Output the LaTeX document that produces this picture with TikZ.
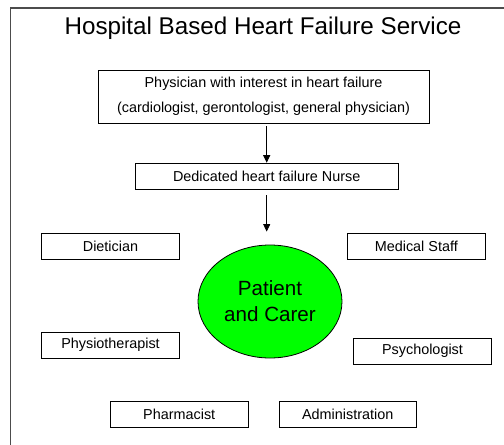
\documentclass[tikz,border=0pt]{standalone}
\usepackage{fontspec}
\setmainfont{Liberation Sans}
\usetikzlibrary{arrows.meta,shapes.geometric}

\begin{document}
\begin{tikzpicture}[x=1pt, y=-1pt,
    box/.style={draw, line width=0.8pt, minimum width=137.6pt, minimum height=25.8pt,
        inner sep=0pt, font=\fontsize{14.4}{25}\selectfont},
    arr/.style={line width=0.8pt, -{Triangle[length=7.5pt,width=7pt]}}]
        \useasboundingbox (0,0) rectangle (504,445);

        % outer frame (only top and left edges show)
        \draw[line width=1.2pt, black!70] (504,8) -- (10.5,8) -- (10.5,445);

        % title
        \node (title) at (263,28) {\fontsize{24.2}{28}\selectfont Hospital Based Heart Failure Service};

        % physician and nurse
        \node[box, minimum width=331pt, minimum height=53pt, align=center] (phys) at (263.5,96.5)
            {Physician with interest in heart failure\\(cardiologist, gerontologist, general physician)};
        \node[box, minimum width=263pt] (nurse) at (266.7,176) {Dedicated heart failure Nurse};

        % patient in the middle
        \node[ellipse, draw, line width=0.8pt, fill={rgb,255:red,0;green,255;blue,0},
            minimum width=144pt, minimum height=113pt, inner sep=0pt, align=center,
            font=\fontsize{20.6}{26}\selectfont] (pat) at (270,301.5) {Patient\\and Carer};

        % team around the patient
        \node[box] (diet)  at (110.5,246) {Dietician};
        \node[box] (med)   at (416.3,246) {Medical Staff};
        \node[box] (physio) at (110.5,345) {Physiotherapist};
        \node[box] (psych) at (422.5,351) {Psychologist};
        \node[box] (pharm) at (179.2,414.3) {Pharmacist};
        \node[box] (admin) at (347.7,414.3) {Administration};

        % arrows
        \coordinate (tip) at ([yshift=13pt]pat.north);
        \draw[arr] ([yshift=-3pt]phys.south -| nurse.north) -- (nurse.north);
        \draw[arr] ([yshift=-6pt]nurse.south) -- (tip -| nurse.south);
\end{tikzpicture}
\end{document}
